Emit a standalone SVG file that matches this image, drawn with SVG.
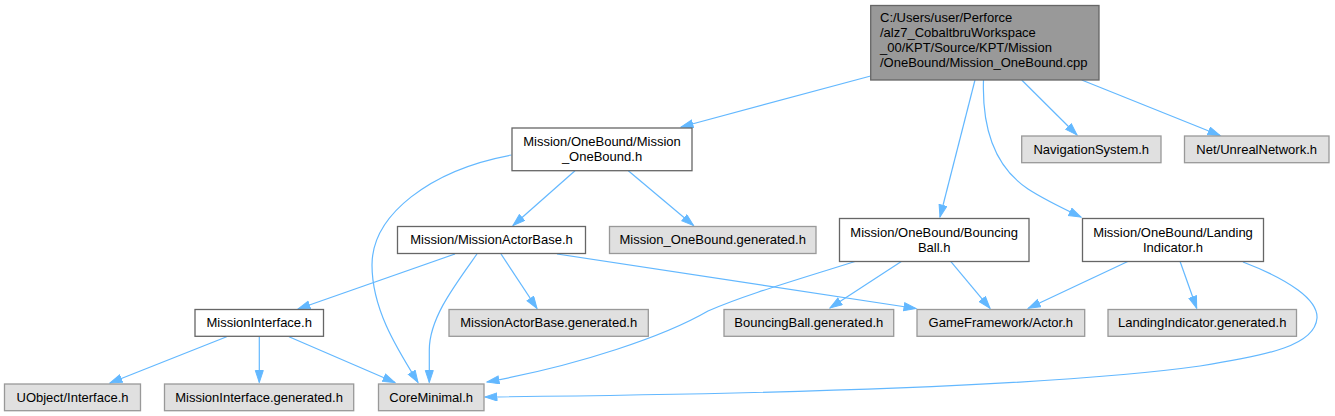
<svg xmlns="http://www.w3.org/2000/svg" width="1335" height="416" viewBox="0 0 1335 416">
<style>
text{font-family:"Liberation Sans",Arial,sans-serif;font-size:13px;fill:#000}
.c{text-anchor:middle}
.w{fill:#ffffff;stroke:#666666;stroke-width:1.3}
.g{fill:#e0e0e0;stroke:#999999;stroke-width:1.3}
.r{fill:#999999;stroke:#666666;stroke-width:1.3}
.e{fill:none;stroke:#63b8ff;stroke-width:1.2;marker-end:url(#ah)}
</style>
<defs>
<marker id="ah" markerUnits="userSpaceOnUse" markerWidth="14" markerHeight="10" refX="12.5" refY="4.5" orient="auto">
<path d="M0.5,0.5 L12.5,4.5 L0.5,8.5 z" fill="#63b8ff" stroke="#63b8ff" stroke-width="1"/>
</marker>
</defs>
<rect width="1335" height="416" fill="#ffffff"/>
<g id="edges">
<path class="e" d="M870.7,76 L681,127"/>
<path class="e" d="M975,80 L940,217"/>
<path class="e" d="M983.5,80 C982,125 992,165 1028,189 C1045,200 1062,208 1081,217"/>
<path class="e" d="M1021.7,80 L1077,135"/>
<path class="e" d="M1081.7,80 L1220,135.5"/>
<path class="e" d="M511.5,155 C430,170 372,215 372,265 C372,310 398,350 418,382.5"/>
<path class="e" d="M575,170.7 L513,225.5"/>
<path class="e" d="M628.3,170.7 L693.5,225.5"/>
<path class="e" d="M455,254 L298,309"/>
<path class="e" d="M477,254 C455,285 429.3,318 429.3,350 L429.3,382.5"/>
<path class="e" d="M501,254 L537,308.5"/>
<path class="e" d="M557,254 L916,308.5"/>
<path class="e" d="M226.7,336.7 L110,383"/>
<path class="e" d="M259.3,336.7 L259.3,382.5"/>
<path class="e" d="M289,336.7 L395,382.5"/>
<path class="e" d="M855,261.5 C790,282 745,295 708,311 C665,336 580,365 487,382"/>
<path class="e" d="M901.7,261.3 L830,308"/>
<path class="e" d="M950.7,261.3 L990,308.3"/>
<path class="e" d="M1128.3,261.3 L1028.3,308.3"/>
<path class="e" d="M1180,261.3 L1196.7,308.3"/>
<path class="e" d="M1243,262 C1290,280 1318,300 1317,318 C1315,345 1270,355 1200,366 C1100,380 900,393 485,397"/>
</g>
<g id="root">
<rect class="r" x="870.7" y="5.5" width="228.3" height="74.5"/>
<text x="880" y="22">C:/Users/user/Perforce</text>
<text x="880" y="37">/alz7_CobaltbruWorkspace</text>
<text x="880" y="52">_00/KPT/Source/KPT/Mission</text>
<text x="880" y="67">/OneBound/Mission_OneBound.cpp</text>
</g>
<g id="mission_onebound_h">
<rect class="w" x="512" y="128" width="180" height="42.7"/>
<text class="c" x="602" y="146">Mission/OneBound/Mission</text>
<text class="c" x="602" y="161">_OneBound.h</text>
</g>
<g id="navigationsystem_h">
<rect class="g" x="1021.7" y="136" width="139.3" height="26.7"/>
<text class="c" x="1091.3" y="153.7">NavigationSystem.h</text>
</g>
<g id="unrealnetwork_h">
<rect class="g" x="1184.5" y="136" width="144.5" height="26.7"/>
<text class="c" x="1256.7" y="153.7">Net/UnrealNetwork.h</text>
</g>
<g id="missionactorbase_h">
<rect class="w" x="397.5" y="226.5" width="188" height="27"/>
<text class="c" x="491.5" y="244.3">Mission/MissionActorBase.h</text>
</g>
<g id="mission_onebound_generated_h">
<rect class="g" x="609.5" y="226.5" width="206.5" height="27"/>
<text class="c" x="712.7" y="244.3">Mission_OneBound.generated.h</text>
</g>
<g id="bouncingball_h">
<rect class="w" x="839.5" y="218.5" width="189.5" height="43"/>
<text class="c" x="934.2" y="236.5">Mission/OneBound/Bouncing</text>
<text class="c" x="934.2" y="251.5">Ball.h</text>
</g>
<g id="landingindicator_h">
<rect class="w" x="1082.5" y="218.5" width="181" height="43"/>
<text class="c" x="1173" y="236.5">Mission/OneBound/Landing</text>
<text class="c" x="1173" y="251.5">Indicator.h</text>
</g>
<g id="missioninterface_h">
<rect class="w" x="195" y="309.5" width="128.5" height="26.8"/>
<text class="c" x="259.2" y="327.3">MissionInterface.h</text>
</g>
<g id="missionactorbase_generated_h">
<rect class="g" x="449" y="309.5" width="199.3" height="26.8"/>
<text class="c" x="548.7" y="327.3">MissionActorBase.generated.h</text>
</g>
<g id="bouncingball_generated_h">
<rect class="g" x="724" y="309.5" width="169.7" height="26.8"/>
<text class="c" x="808.8" y="327.3">BouncingBall.generated.h</text>
</g>
<g id="actor_h">
<rect class="g" x="917" y="309.5" width="167.7" height="26.8"/>
<text class="c" x="1000.8" y="327.3">GameFramework/Actor.h</text>
</g>
<g id="landingindicator_generated_h">
<rect class="g" x="1108" y="309.5" width="188.5" height="26.8"/>
<text class="c" x="1202.2" y="327.3">LandingIndicator.generated.h</text>
</g>
<g id="uobject_interface_h">
<rect class="g" x="4.5" y="384" width="136" height="26.7"/>
<text class="c" x="72.5" y="401.7">UObject/Interface.h</text>
</g>
<g id="missioninterface_generated_h">
<rect class="g" x="164.5" y="384" width="189.2" height="26.7"/>
<text class="c" x="259.1" y="401.7">MissionInterface.generated.h</text>
</g>
<g id="coreminimal_h">
<rect class="g" x="378.5" y="384" width="105.5" height="26.7"/>
<text class="c" x="431.2" y="401.7">CoreMinimal.h</text>
</g>
</svg>
